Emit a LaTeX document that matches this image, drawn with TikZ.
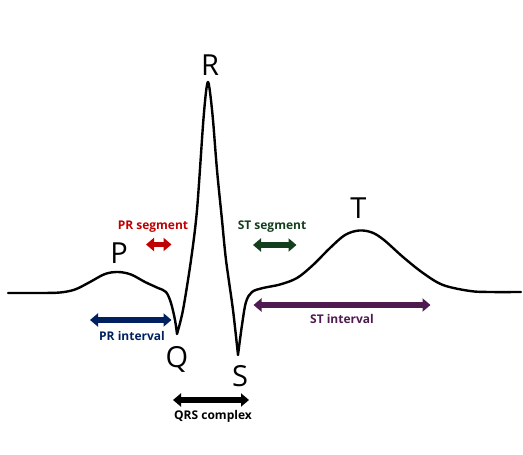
\documentclass[tikz,border=0pt]{standalone}
\usepackage{fontspec}
\setmainfont{Open Sans}
\usetikzlibrary{arrows.meta}
\definecolor{prseg}{HTML}{C00000}
\definecolor{print}{HTML}{002060}
\definecolor{stseg}{HTML}{133F1C}
\definecolor{stint}{HTML}{4E1A4F}
\definecolor{qrsc}{HTML}{000000}
\tikzset{
  wave/.style={line width=2.4pt, line join=round, line cap=round},
  dblarrow/.style={line width=5.5pt, {Triangle[width=13pt,length=8pt]}-{Triangle[width=13pt,length=8pt]}},
  wavelabel/.style={font=\fontsize{29}{30}\selectfont, inner sep=0pt},
  smalllabel/.style={font=\bfseries\fontsize{12}{14}\selectfont, inner sep=0pt}
}
\begin{document}
\begin{tikzpicture}[x=1pt,y=-1pt]
\useasboundingbox (0,0) rectangle (523,455);
% ECG waveform
\draw[wave]
  plot[smooth, tension=0.55] coordinates {(8,293) (40,293) (60,292.5) (75,289.5) (90,282) (105,274) (118,272) (131,274.5) (145,282) (158,288) (166,292) (171,303) (175,320) (177,334)}
  -- plot[smooth, tension=0.5] coordinates {(177,334) (183,310) (191,260) (197,210) (203,125) (206,92) (208,82) (210,92) (213,120) (217,170) (222,220) (226,260) (233,310) (238,355)}
  -- plot[smooth, tension=0.55] coordinates {(238,355) (242,325) (246,302) (252,292) (263,288) (280,284.5) (297,278) (313,265) (330,248) (345,235) (359,230.5) (372,232.5) (384,240) (403,257) (423,273) (443,285) (470,291) (490,292) (521,292)};
% wave labels
\node[wavelabel] (P) at (119,253) {P};
\node[wavelabel] (R) at (210,65) {R};
\node[wavelabel] (Q) at (177,359) {Q};
\node[wavelabel] (S) at (240,376) {S};
\node[wavelabel] (T) at (358.5,208) {T};
% arrow endpoints
\coordinate (prsA) at (146,244.5);
\coordinate (prsB) at (171.5,244.5);
\coordinate (priA) at (90,320);
\coordinate (priB) at (171.5,320);
\coordinate (stsA) at (253,245);
\coordinate (stsB) at (296.5,245);
\coordinate (stiA) at (253.5,305);
\coordinate (stiB) at (430.5,305);
\coordinate (qrsA) at (173,400);
\coordinate (qrsB) at (249,400);
% arrows
\draw[dblarrow, prseg] (prsA) -- (prsB);
\draw[dblarrow, print] (priA) -- (priB);
\draw[dblarrow, stseg] (stsA) -- (stsB);
\draw[dblarrow, stint] (stiA) -- (stiB);
\draw[dblarrow, qrsc] (qrsA) -- (qrsB);
% labels
\node[smalllabel, text=prseg] (prsL) at (153,227) {PR segment};
\node[smalllabel, text=print] (priL) at (132,336) {PR interval};
\node[smalllabel, text=stseg] (stsL) at (272,227) {ST segment};
\node[smalllabel, text=stint] (stiL) at (342,319) {ST interval};
\node[smalllabel, text=qrsc] (qrsL) at (213,416) {QRS complex};
\end{tikzpicture}
\end{document}
